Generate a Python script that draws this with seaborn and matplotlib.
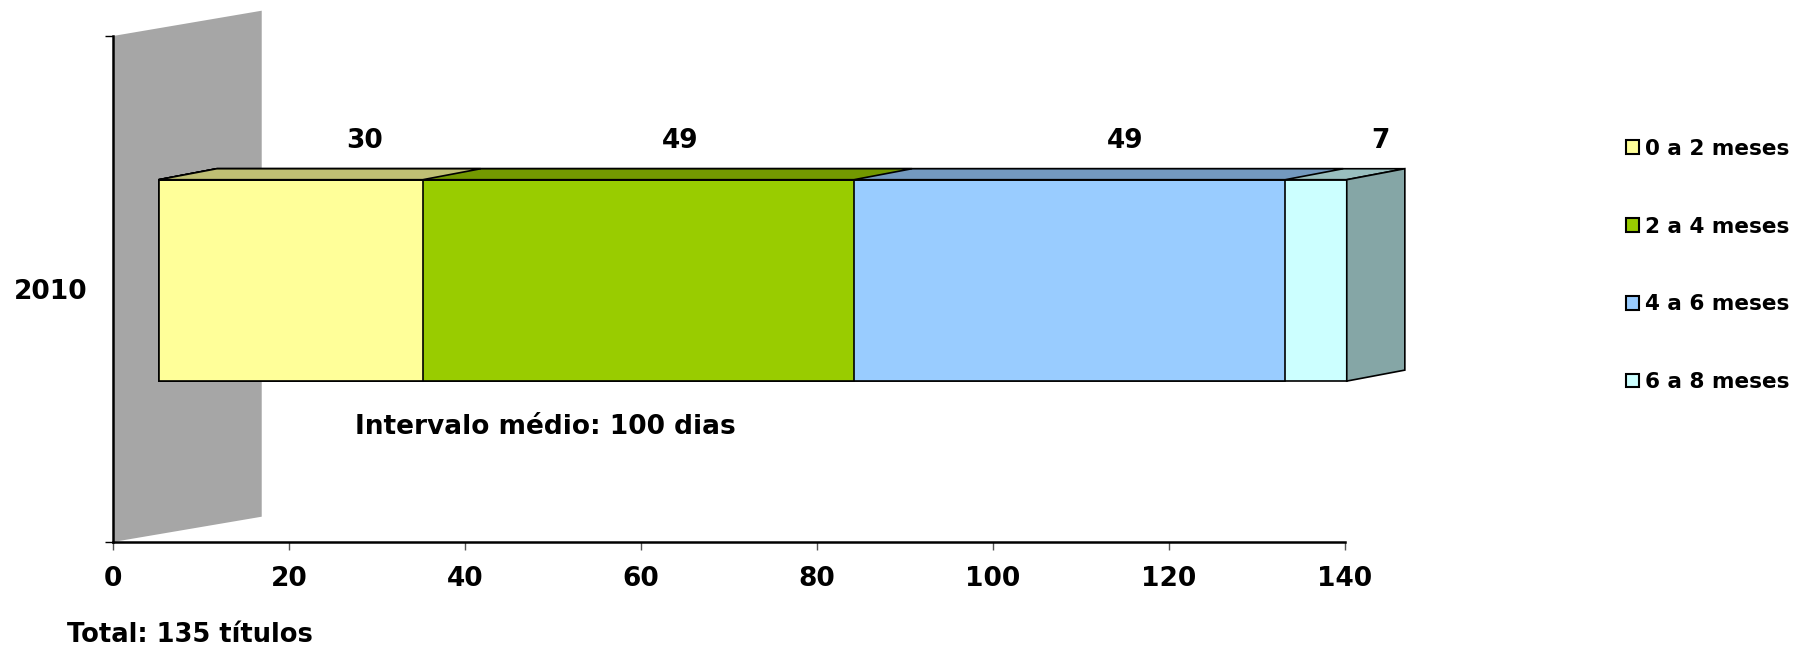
import numpy as np
import pandas as pd
import matplotlib
matplotlib.use("Agg")
import matplotlib.pyplot as plt
from matplotlib.patches import Patch, Polygon
import seaborn as sns

# dados
ano = "2010"
faixas = ["0 a 2 meses", "2 a 4 meses", "4 a 6 meses", "6 a 8 meses"]
titulos = [30, 49, 49, 7]
cores = ["#FFFF99", "#99CC00", "#99CCFF", "#CCFFFF"]
xticks = [0, 20, 40, 60, 80, 100, 120, 140]
nota_intervalo = "Intervalo médio: 100 dias"
nota_total = "Total: 135 títulos"

# estilo do efeito 3D (unidades de dados)
desloc_frente = (5.2, 0.017)
prof_dx, prof_dy = 6.6, 0.0217
parede_dx, parede_dy = 16.9, 0.05
ajuste_rotulos = [5.1, 1.4, 3.0, 4.0]

sns.set_style("white")
plt.rcParams["font.family"] = ["DejaVu Sans"]
plt.rcParams["font.weight"] = "bold"
for k in ["text.color", "axes.labelcolor", "xtick.color", "ytick.color"]:
    plt.rcParams[k] = "black"

df = pd.DataFrame({"ano": ano, "faixa": faixas, "titulos": titulos, "cor": cores})
df["acum"] = df["titulos"].cumsum()

fig = plt.figure(figsize=(17.93, 6.51), dpi=100)
ax = fig.add_axes([113 / 1793, 1 - 542 / 651, 1232 / 1793, 506 / 651])

# parede cinza
parede = Polygon([(0, -0.5), (0, 0.5), (parede_dx, 0.5 + parede_dy), (parede_dx, -0.5 + parede_dy)],
                 closed=True, facecolor="#A6A6A6", edgecolor="none", zorder=0, clip_on=False)
ax.add_patch(parede)

# barras empilhadas (desenhadas da maior para a menor)
for i in reversed(range(len(df))):
    sns.barplot(x=[df["acum"][i]], y=[ano], color=df["cor"][i], orient="h", width=0.398,
                saturation=1, errorbar=None, edgecolor="black", linewidth=1.2, ax=ax, zorder=2)

ax.set_ylim(-0.5, 0.5)
barras = [p for p in ax.patches if p is not parede]

def escurece(c, f):
    r, g, b = matplotlib.colors.to_rgb(c)
    return (r * f, g * f, b * f)

for k, p in enumerate(barras):
    p.set_clip_on(False)
    p.set_x(p.get_x() + desloc_frente[0])
    p.set_y(p.get_y() + desloc_frente[1])
    x0, x1 = p.get_x(), p.get_x() + p.get_width()
    y0, y1 = p.get_y(), p.get_y() + p.get_height()
    cor = p.get_facecolor()
    topo = Polygon([(x0, y1), (x1, y1), (x1 + prof_dx, y1 + prof_dy), (x0 + prof_dx, y1 + prof_dy)],
                   closed=True, facecolor=escurece(cor, 0.75), edgecolor="black", linewidth=1.2,
                   zorder=3, clip_on=False)
    ax.add_patch(topo)
    if k == 0:
        lado = Polygon([(x1, y0), (x1, y1), (x1 + prof_dx, y1 + prof_dy), (x1 + prof_dx, y0 + prof_dy)],
                       closed=True, facecolor=escurece(cor, 0.65), edgecolor="black", linewidth=1.2,
                       zorder=3, clip_on=False)
        ax.add_patch(lado)

# rótulos de valores
inicio = df["acum"] - df["titulos"]
for i, v in enumerate(titulos):
    xc = desloc_frente[0] + inicio[i] + v / 2 + prof_dx / 2 + ajuste_rotulos[i]
    ax.text(xc, 0.292, str(v), ha="center", va="center", fontsize=19, fontweight="bold", clip_on=False)

# eixos
ax.set_xlim(0, 140)
ax.set_xticks(xticks)
ax.set_xticklabels([str(t) for t in xticks], fontsize=19, fontweight="bold")
ax.set_yticks([0])
ax.set_yticklabels([ano], fontsize=19, fontweight="bold")
ax.set_yticks([-0.5, 0.5], minor=True)
ax.tick_params(axis="y", which="major", length=0, pad=18)
ax.tick_params(axis="y", which="minor", length=6, width=1, color="black", direction="out", left=True)
ax.tick_params(axis="x", length=6, width=1, color="#555555", direction="out", bottom=True, pad=11)
ax.set_xlabel("")
ax.set_ylabel("")
sns.despine(ax=ax, top=True, right=True)
for s in ["left", "bottom"]:
    ax.spines[s].set_linewidth(1.8)
    ax.spines[s].set_color("black")
ax.set_facecolor("none")

# legenda
handles = [Patch(facecolor=c, edgecolor="black", linewidth=1.5) for c in cores]
fig.legend(handles, faixas, loc="upper left", bbox_to_anchor=(1626 / 1793, 1 - 139 / 651),
           frameon=False, borderpad=0, borderaxespad=0, prop={"weight": "bold", "size": 15.5},
           handlelength=0.62, handleheight=0.62, handletextpad=0.25, labelspacing=2.68)

# notas
fig.text(355 / 1793, 1 - 427 / 651, nota_intervalo, ha="left", va="center", fontsize=19, fontweight="bold")
fig.text(67 / 1793, 1 - 635 / 651, nota_total, ha="left", va="center", fontsize=18.5, fontweight="bold")

fig.savefig("out.png", dpi=100)
